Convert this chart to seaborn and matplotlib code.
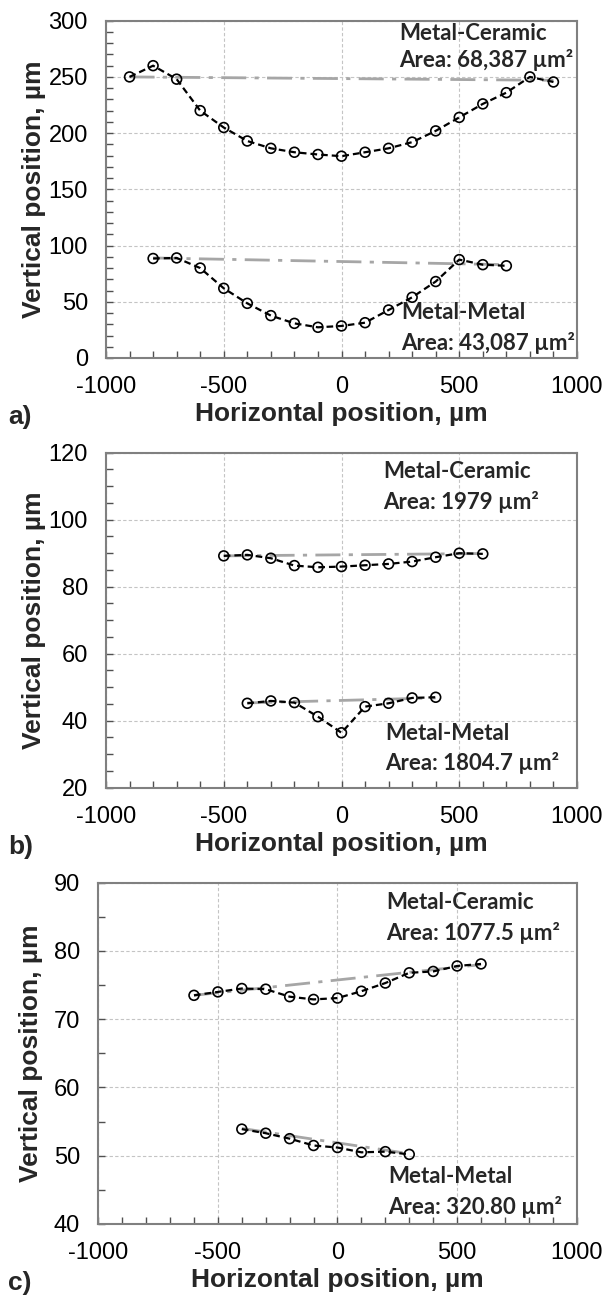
import numpy as np
import pandas as pd
import matplotlib
matplotlib.use("Agg")
import matplotlib.pyplot as plt
from matplotlib.ticker import MultipleLocator
import seaborn as sns

# ---------------- data ----------------
# Panel a
a_mc_x = [-900, -800, -700, -600, -500, -400, -300, -200, -100, 0, 100, 200, 300, 400, 500, 600, 700, 800, 900]
a_mc_y = [250, 260, 248, 220, 205, 193, 186.5, 183, 181, 179.5, 183, 186.5, 192, 202, 214, 226, 236, 250, 245.5]
a_mc_ref_x = [-900, 900]
a_mc_ref_y = [250, 247]
a_mm_x = [-800, -700, -600, -500, -400, -300, -200, -100, 0, 100, 200, 300, 400, 500, 600, 700]
a_mm_y = [88.5, 89, 80, 62, 48.6, 37.7, 30.8, 27.3, 28.5, 31.4, 42.7, 54, 68, 87.5, 83, 82]
a_mm_ref_x = [-800, 700]
a_mm_ref_y = [89, 83]

# Panel b
b_mc_x = [-500, -400, -300, -200, -100, 0, 100, 200, 300, 400, 500, 600]
b_mc_y = [89.2, 89.5, 88.5, 86.3, 85.8, 86, 86.4, 86.8, 87.5, 88.8, 90, 89.8]
b_mc_ref_x = [-500, 600]
b_mc_ref_y = [89.2, 89.9]
b_mm_x = [-400, -300, -200, -100, 0, 100, 200, 300, 400]
b_mm_y = [45.2, 45.9, 45.4, 41.2, 36.4, 44.2, 45.2, 46.8, 47]
b_mm_ref_x = [-400, 400]
b_mm_ref_y = [45.3, 46.8]

# Panel c
c_mc_x = [-600, -500, -400, -300, -200, -100, 0, 100, 200, 300, 400, 500, 600]
c_mc_y = [73.5, 74.0, 74.5, 74.4, 73.3, 72.9, 73.1, 74.1, 75.3, 76.8, 77.0, 77.8, 78.1]
c_mc_ref_x = [-600, 600]
c_mc_ref_y = [73.5, 78.0]
c_mm_x = [-400, -300, -200, -100, 0, 100, 200, 300]
c_mm_y = [53.9, 53.3, 52.5, 51.5, 51.2, 50.5, 50.6, 50.2]
c_mm_ref_x = [-400, 300]
c_mm_ref_y = [54.0, 50.3]

panel_labels = ["a)", "b)", "c)"]
ylims = [(0, 300), (20, 120), (40, 90)]
ymajor = [50, 20, 10]
yminor = [10, 5, 5]
texts = [
    ("Metal-Ceramic", "Area: 68,387 µm²", "Metal-Metal", "Area: 43,087 µm²"),
    ("Metal-Ceramic", "Area: 1979 µm²", "Metal-Metal", "Area: 1804.7 µm²"),
    ("Metal-Ceramic", "Area: 1077.5 µm²", "Metal-Metal", "Area: 320.80 µm²"),
]
xlabel = "Horizontal position, µm"
ylabel = "Vertical position, µm"

# ---------------- style ----------------
sns.set_style("white")
plt.rcParams['font.family'] = ['Liberation Sans', 'DejaVu Sans']
plt.rcParams['axes.unicode_minus'] = False

fig = plt.figure(figsize=(6.06, 13.01), dpi=100)
axes_pos = [
    [106/606, 1-358/1301, 471/606, 337.3/1301],
    [106/606, 1-787.7/1301, 471/606, 335/1301],
    [98.3/606, 1-1224/1301, 478.4/606, 341.3/1301],
]
ylabel_x = [-0.128, -0.128, -0.115]
text_pos = [
    ((0.622, 0.963), (0.622, 0.883), (0.626, 0.134), (0.626, 0.044)),
    ((0.588, 0.943), (0.588, 0.854), (0.592, 0.162), (0.592, 0.074)),
    ((0.601, 0.941), (0.601, 0.852), (0.606, 0.139), (0.606, 0.051)),
]

series = [
    ((a_mc_x, a_mc_y, a_mc_ref_x, a_mc_ref_y), (a_mm_x, a_mm_y, a_mm_ref_x, a_mm_ref_y)),
    ((b_mc_x, b_mc_y, b_mc_ref_x, b_mc_ref_y), (b_mm_x, b_mm_y, b_mm_ref_x, b_mm_ref_y)),
    ((c_mc_x, c_mc_y, c_mc_ref_x, c_mc_ref_y), (c_mm_x, c_mm_y, c_mm_ref_x, c_mm_ref_y)),
]

spine_col = "#808080"
grid_col = "#C4C4C4"
ann_font = ['Lato', 'DejaVu Sans']

for i in range(3):
    ax = fig.add_axes(axes_pos[i])
    for (sx, sy, rx, ry) in series[i]:
        sns.lineplot(x=rx, y=ry, ax=ax, color="#A6A6A6", lw=2.0,
                     sort=False, zorder=2,
                     estimator=None).lines[-1].set_dashes([9, 3, 1.5, 3])
        ln = sns.lineplot(x=sx, y=sy, ax=ax, color="black", lw=1.6,
                          sort=False, estimator=None, zorder=3)
        ln.lines[-1].set_dashes([3, 1.8])
        sns.scatterplot(x=sx, y=sy, ax=ax, s=50, marker='o',
                        facecolors='none', edgecolor='black', linewidth=1.2,
                        zorder=4)
    ax.set_xlim(-1000, 1000)
    ax.set_ylim(*ylims[i])
    ax.xaxis.set_major_locator(MultipleLocator(500))
    ax.xaxis.set_minor_locator(MultipleLocator(100))
    ax.yaxis.set_major_locator(MultipleLocator(ymajor[i]))
    ax.yaxis.set_minor_locator(MultipleLocator(yminor[i]))
    ax.tick_params(axis='both', which='both', direction='in', colors='#505050',
                   labelcolor='black', top=False, right=False,
                   bottom=True, left=True)
    ax.tick_params(axis='both', which='major', length=5, width=1, labelsize=17)
    ax.tick_params(axis='both', which='minor', length=5, width=1)
    ax.tick_params(axis='x', which='major', pad=13)
    ax.tick_params(axis='y', which='major', pad=13)
    ax.grid(True, which='major', color=grid_col, linestyle=(0, (3, 2)), lw=0.8)
    for sp in ax.spines.values():
        sp.set_color(spine_col)
        sp.set_linewidth(1.5)
    ax.set_xlabel(xlabel, fontsize=19, fontweight='bold', labelpad=3)
    ax.set_ylabel(ylabel, fontsize=19, fontweight='bold')
    ax.yaxis.set_label_coords(ylabel_x[i], 0.5)
    t = texts[i]
    for k in range(4):
        ax.text(text_pos[i][k][0], text_pos[i][k][1], t[k], transform=ax.transAxes,
                fontsize=16, fontweight='bold', family=ann_font,
                ha='left', va='center', zorder=5)
    # panel letter
    bottom_px = [358, 787.7, 1224][i]
    fig.text(8/606, 1-(bottom_px+59)/1301, panel_labels[i], fontsize=19,
             fontweight='bold', ha='left', va='center')

fig.savefig("out.png", dpi=100)
